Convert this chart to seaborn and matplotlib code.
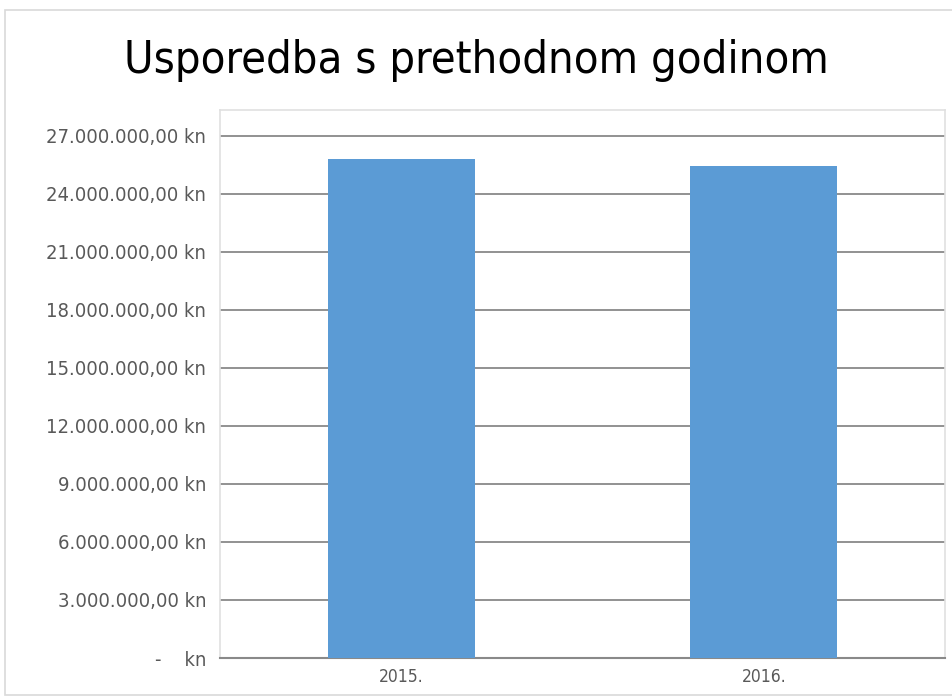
import matplotlib
matplotlib.use("Agg")
import matplotlib.pyplot as plt
import seaborn as sns
import pandas as pd
from matplotlib.patches import Rectangle
from matplotlib.ticker import FuncFormatter

years = ["2015.", "2016."]
values = [25790000, 25400000]
y_ticks = [0, 3e6, 6e6, 9e6, 12e6, 15e6, 18e6, 21e6, 24e6, 27e6]
title = "Usporedba s prethodnom godinom"

sns.set_theme(style="white")
plt.rcParams['font.family'] = ['DejaVu Sans']

df = pd.DataFrame({"godina": years, "iznos": values})

W, H = 953, 699
fig = plt.figure(figsize=(W / 100, H / 100), dpi=100)
fig.patch.set_facecolor("white")

# outer chart border
fig.patches.append(Rectangle((5 / W, 4 / H), 948 / W, 685 / H, transform=fig.transFigure,
                             fill=False, edgecolor="#d9d9d9", linewidth=1.2))

left, right, top, bottom = 220, 945, 110, 658
ax = fig.add_axes([left / W, (H - bottom) / H, (right - left) / W, (bottom - top) / H])

sns.barplot(data=df, x="godina", y="iznos", color="#5b9bd5", width=0.405, ax=ax,
            saturation=1, zorder=3, linewidth=0, edgecolor="none")

ax.set_xlim(-0.5, 1.5)
ax.set_ylim(0, 27e6 * (bottom - top) / (bottom - 135.5))
ax.set_yticks(y_ticks)

def fmt(v, pos):
    if v == 0:
        return "-    kn"
    s = f"{v:,.2f}".replace(",", "X").replace(".", ",").replace("X", ".")
    return s + " kn"

ax.yaxis.set_major_formatter(FuncFormatter(fmt))
ax.grid(axis="y", color="#898989", linewidth=1.3, zorder=0)
ax.grid(axis="x", visible=False)
ax.set_xlabel("")
ax.set_ylabel("")

for side in ["top", "right", "left"]:
    ax.spines[side].set_color("#e0e0e0")
    ax.spines[side].set_linewidth(1.2)
ax.spines["bottom"].set_color("#898989")
ax.spines["bottom"].set_linewidth(1.5)

ax.tick_params(axis="y", labelsize=14.5, labelcolor="#595959", length=0, pad=10)
ax.tick_params(axis="x", labelsize=12.5, labelcolor="#595959", length=0, pad=7)
for lab in ax.get_yticklabels() + ax.get_xticklabels():
    lab.set_fontstretch("condensed")

fig.text(0.5, (H - 60) / H, title, ha="center", va="center", fontsize=32.5,
         color="#000000", fontstretch="condensed")

fig.savefig("out.png", dpi=100, facecolor="white")
